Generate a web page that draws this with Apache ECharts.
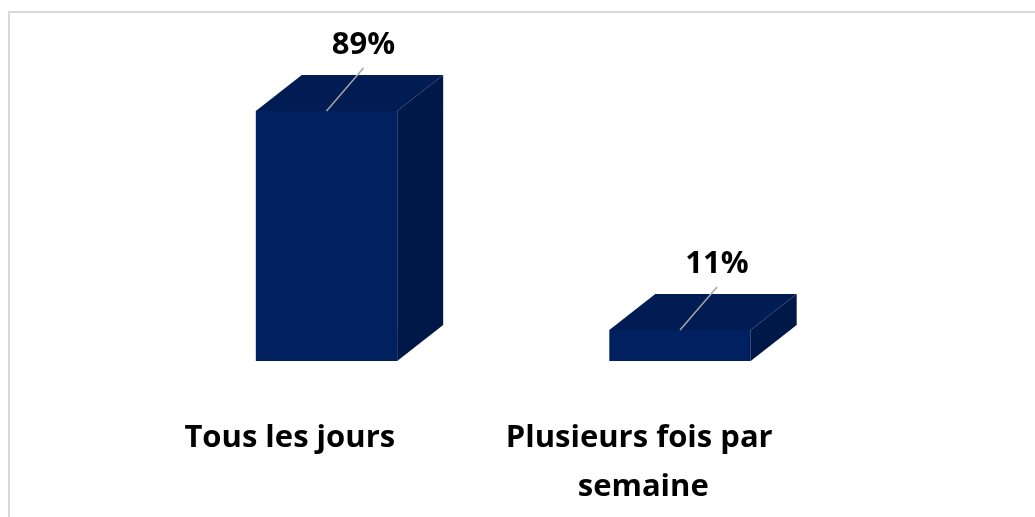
<!DOCTYPE html>
<html>
<head>
<meta charset="utf-8">
<script src="https://cdn.jsdelivr.net/npm/echarts@6/dist/echarts.min.js"></script>
<style>
  html, body { margin: 0; padding: 0; background: #fff; }
  #root { width: 1035px; height: 517px; }
</style>
</head>
<body>
<div id="root"></div>
<script>
var categories = ['Tous les jours', 'Plusieurs fois par semaine']
var values = [89, 11]
var valueLabels = ['89%', '11%']

var FRONT = '#002060'
var TOP = '#001c52'
var SIDE = '#001847'
var FONT = '"Open Sans", Roboto, sans-serif'

var renderBar = function (params, api) {
  var idx = api.value(0)
  var val = api.value(1)
  var top = api.coord([idx, val])
  var base = api.coord([idx, 0])
  var band = api.size([1, 0])[0]
  var x0 = top[0] - band * 0.096
  var w = band * 0.4
  var x1 = x0 + w
  var dx = band * 0.13
  var dy = 36
  var yt = top[1]
  var yb = base[1]
  var cx = (x0 + x1) / 2
  return {
    type: 'group',
    children: [
      { type: 'polygon', shape: { points: [[x1, yt], [x1 + dx, yt - dy], [x1 + dx, yb - dy], [x1, yb]] }, style: { fill: SIDE } },
      { type: 'polygon', shape: { points: [[x0, yt], [x0 + dx, yt - dy], [x1 + dx, yt - dy], [x1, yt]] }, style: { fill: TOP } },
      { type: 'rect', shape: { x: x0, y: yt, width: w, height: yb - yt }, style: { fill: FRONT } },
      { type: 'line', shape: { x1: cx, y1: yt, x2: cx + 37, y2: yt - 43 }, style: { stroke: '#a6a6a6', lineWidth: 1.5 } },
      {
        type: 'text',
        x: cx + 37, y: yt - 66,
        style: {
          text: valueLabels[params.dataIndex],
          fill: '#000', font: 'bold 31px ' + FONT,
          align: 'center', verticalAlign: 'middle'
        }
      }
    ]
  }
}

var chart = echarts.init(document.getElementById('root'))
chart.setOption({
  animation: false,
  graphic: [{
    type: 'rect', shape: { x: 9, y: 12, width: 1100, height: 600 },
    style: { fill: 'none', stroke: '#d9d9d9', lineWidth: 2 }
  }],
  grid: { left: 113, right: 215, top: 80, bottom: 156 },
  xAxis: {
    type: 'category',
    data: categories,
    axisLine: { show: false },
    axisTick: { show: false },
    axisLabel: {
      interval: 0,
      margin: 53,
      color: '#000',
      fontFamily: FONT,
      fontWeight: 'bold',
      fontSize: 31,
      lineHeight: 49,
      width: 300,
      overflow: 'break'
    }
  },
  yAxis: {
    type: 'value', min: 0, max: 100, show: false,
    splitLine: { show: false }
  },
  series: [{
    type: 'custom',
    renderItem: renderBar,
    data: values.map(function (v, i) { return [i, v] }),
    encode: { x: 0, y: 1 }
  }]
})
</script>
</body>
</html>
